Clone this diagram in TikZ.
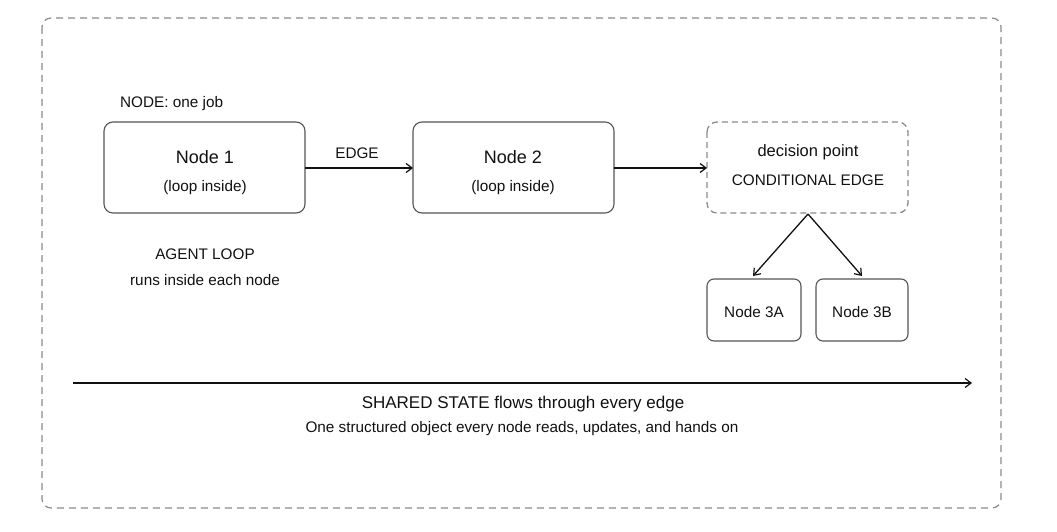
\documentclass[tikz,border=0pt]{standalone}
\usepackage{fontspec}
\setmainfont{Liberation Sans}
\usetikzlibrary{arrows.meta}
\definecolor{boxgray}{HTML}{555555}
\definecolor{dashgray}{HTML}{8A8A8A}
\definecolor{txt}{HTML}{111111}
\tikzset{
  nodebox/.style={draw=boxgray, line width=1.1pt, rounded corners=9pt, fill=white},
  smallbox/.style={draw=boxgray, line width=1.1pt, rounded corners=7pt},
  dbox/.style={draw=dashgray, line width=1.3pt, dash pattern=on 6pt off 4pt, rounded corners=10pt},
  outer/.style={draw=dashgray, line width=1.2pt, dash pattern=on 7pt off 5pt, rounded corners=9pt},
  conn/.style={draw=txt, line width=1.3pt, -{Straight Barb[length=6pt,width=9pt,line width=1.2pt]}},
  lbl/.style={text=txt, inner sep=0pt, font=\fontsize{15.3}{18}\selectfont},
  big/.style={text=txt, inner sep=0pt, font=\fontsize{18}{21}\selectfont},
}
\begin{document}
\begin{tikzpicture}[x=1pt,y=-1pt]
\useasboundingbox (0,0) rectangle (1057,532);
\draw[outer] (42,18) rectangle (1001,508);

% boxes
\draw[nodebox] (104,122) rectangle (305,213);
\draw[nodebox] (413,122) rectangle (614,213);
\draw[dbox] (707,122) rectangle (908,213);
\draw[smallbox] (707,279) rectangle (801,341);
\draw[smallbox] (816,279) rectangle (908,341);

\coordinate (n1) at (305,168);
\coordinate (n2w) at (413,168);
\coordinate (n2e) at (614,168);
\coordinate (dw) at (707,168);
\coordinate (db) at (808,214);
\coordinate (a3) at (753,276);
\coordinate (b3) at (862,276);
\coordinate (ss) at (73,383);
\coordinate (se) at (972,383);

\node[big] (t1) at (205,157) {Node 1};
\node[lbl] (s1) at (205,188) {(loop inside)};
\node[big] (t2) at (513,157) {Node 2};
\node[lbl] (s2) at (513,188) {(loop inside)};
\node[lbl, font=\fontsize{16.5}{19}\selectfont] (dp) at (808,152) {decision point};
\node[lbl] (ce) at (808,180) {CONDITIONAL EDGE};
\node[lbl] (n3a) at (754,312) {Node 3A};
\node[lbl] (n3b) at (862,312) {Node 3B};
\node[lbl, anchor=west] (nj) at (120,104) {NODE: one job};
\node[lbl] (edge) at (357,153) {EDGE};
\node[lbl] (al) at (205,254) {AGENT LOOP};
\node[lbl] (ri) at (205,280) {runs inside each node};
\node[lbl, font=\fontsize{17}{20}\selectfont] (sh) at (523,404) {SHARED STATE flows through every edge};
\node[lbl] (os) at (522,429) {One structured object every node reads, updates, and hands on};

\draw[conn] (n1) -- (n2w);
\draw[conn] (n2e) -- (dw);
\draw[conn] (db) -- (a3);
\draw[conn] (db) -- (b3);
\draw[conn] (ss) -- (se);
\end{tikzpicture}
\end{document}
